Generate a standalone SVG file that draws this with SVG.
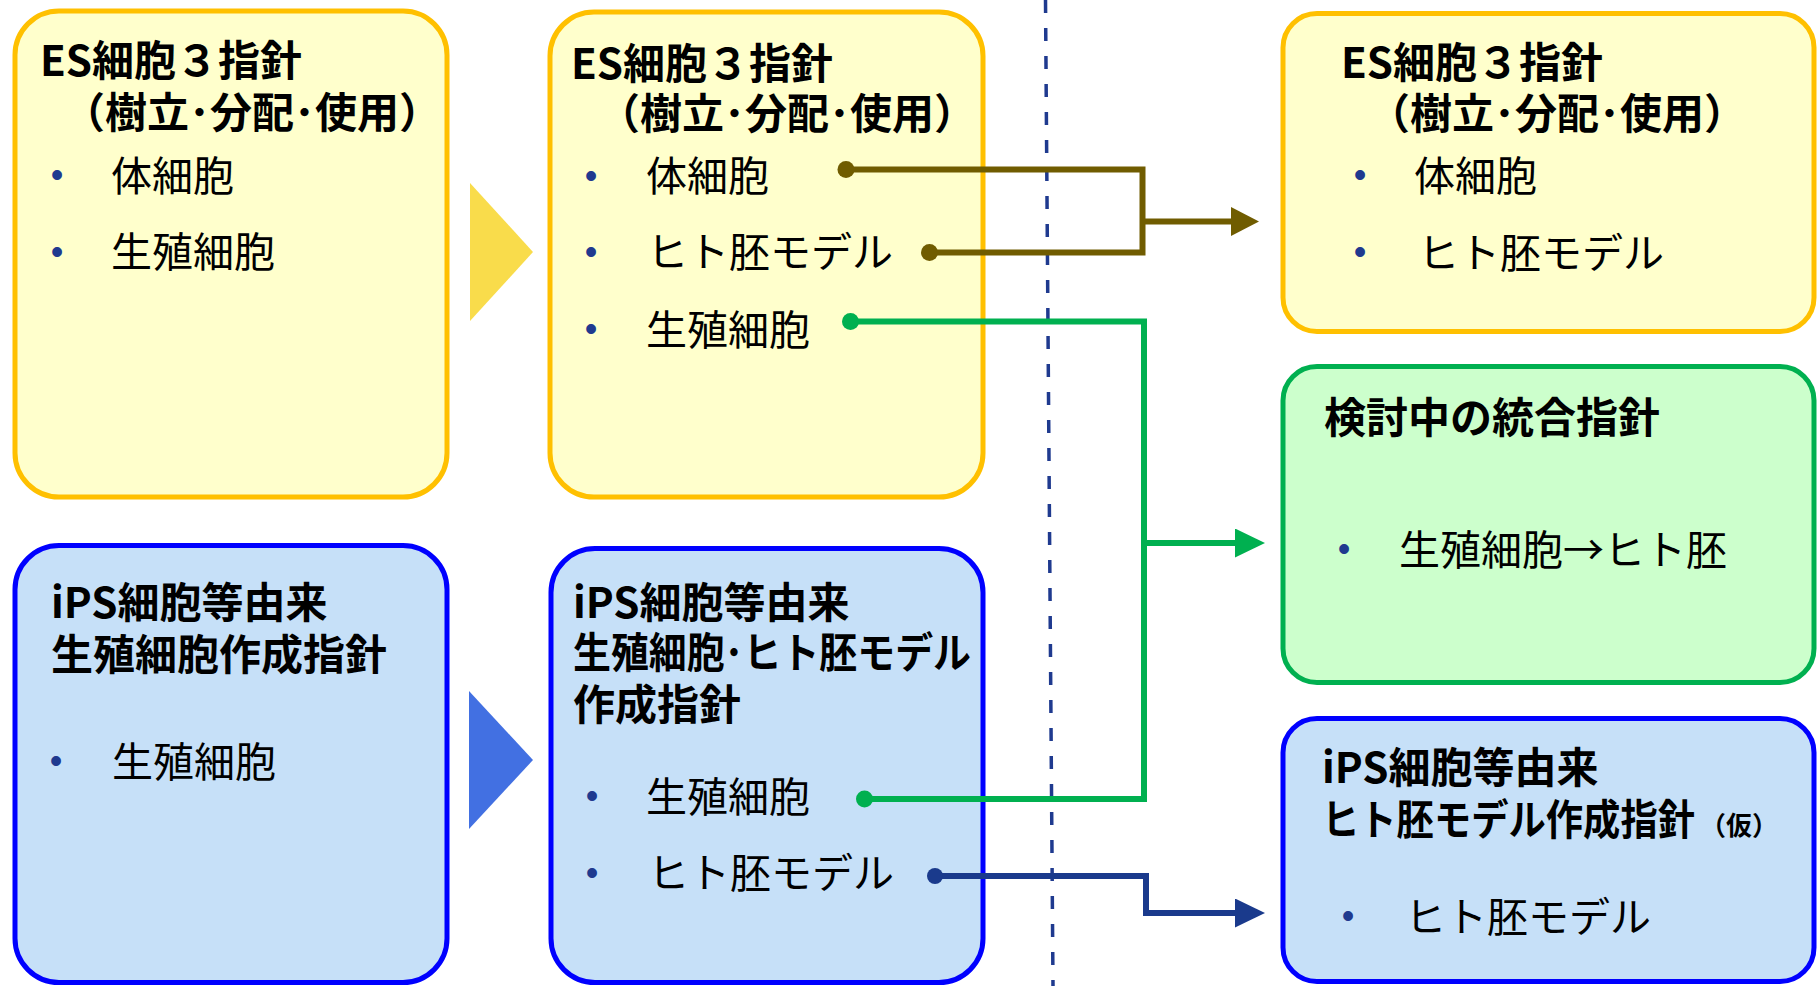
<svg xmlns="http://www.w3.org/2000/svg" width="1817" height="986" viewBox="0 0 1817 986">
<defs>
<style>
.yb{fill:#FFFFCC;stroke:#FFC000;stroke-width:5}
.bb{fill:#C6E0F8;stroke:#0000FF;stroke-width:5}
.gb{fill:#CCFFCC;stroke:#00B050;stroke-width:5}
.t{font-family:"Noto Sans CJK JP","Noto Sans",sans-serif;font-weight:700;font-size:42px;fill:#000}
.r{font-family:"Noto Sans CJK JP","Noto Sans",sans-serif;font-weight:400;font-size:41px;fill:#000}
.bul{font-family:"Liberation Sans",sans-serif;font-size:36px;fill:#1F3A8F;text-anchor:middle}
.c{fill:none;stroke-width:6}
</style>
<marker id="ab" markerUnits="userSpaceOnUse" markerWidth="30" markerHeight="30" refX="2" refY="14.5" orient="auto"><path d="M0,0 L28,14.5 L0,29 z" fill="#705C00"/></marker>
<marker id="ag" markerUnits="userSpaceOnUse" markerWidth="32" markerHeight="30" refX="2" refY="14.5" orient="auto"><path d="M0,0 L30,14.5 L0,29 z" fill="#00B050"/></marker>
<marker id="an" markerUnits="userSpaceOnUse" markerWidth="32" markerHeight="30" refX="2" refY="14.5" orient="auto"><path d="M0,0 L30,14.5 L0,29 z" fill="#1A3A8C"/></marker>
</defs>
<rect width="1817" height="986" fill="#FFFFFF"/>

<g id="es-current">
<rect class="yb" x="15" y="11" width="432" height="486" rx="44"/>
<text class="t" x="40" y="76">ES細胞３指針</text>
<text class="t" x="63" y="128">（樹立･分配･使用）</text>
<text class="bul" x="57" y="187">•</text>
<text class="r" x="111" y="191">体細胞</text>
<text class="bul" x="57" y="264">•</text>
<text class="r" x="111" y="267">生殖細胞</text>
</g>

<g id="arrow-yellow">
<polygon points="470,183 533,252 470,321" fill="#F9DC4B"/>
</g>

<g id="es-revised">
<rect class="yb" x="550" y="12" width="433" height="485" rx="44"/>
<text class="t" x="571" y="79">ES細胞３指針</text>
<text class="t" x="598" y="129">（樹立･分配･使用）</text>
<text class="bul" x="591" y="188">•</text>
<text class="r" x="646" y="191">体細胞</text>
<text class="bul" x="591" y="264">•</text>
<text class="r" x="647" y="267">ヒト胚モデル</text>
<text class="bul" x="591" y="341">•</text>
<text class="r" x="646" y="345">生殖細胞</text>
</g>

<g id="ips-current">
<rect class="bb" x="15" y="545.5" width="432" height="437" rx="44"/>
<text class="t" x="51" y="618">iPS細胞等由来</text>
<text class="t" x="51" y="670">生殖細胞作成指針</text>
<text class="bul" x="56" y="773">•</text>
<text class="r" x="112" y="777">生殖細胞</text>
</g>

<g id="arrow-blue">
<polygon points="469,691 533,760 469,829" fill="#4270E2"/>
</g>

<g id="ips-revised">
<rect class="bb" x="551" y="548.5" width="432" height="434" rx="44"/>
<text class="t" x="573" y="618">iPS細胞等由来</text>
<text class="t" x="573" y="668" textLength="398" lengthAdjust="spacingAndGlyphs">生殖細胞･ヒト胚モデル</text>
<text class="t" x="573" y="720">作成指針</text>
<text class="bul" x="592" y="808">•</text>
<text class="r" x="646" y="812">生殖細胞</text>
<text class="bul" x="592" y="885">•</text>
<text class="r" x="648" y="888">ヒト胚モデル</text>
</g>

<g id="es-future">
<rect class="yb" x="1283" y="13.5" width="531" height="318" rx="34"/>
<text class="t" x="1341" y="78">ES細胞３指針</text>
<text class="t" x="1368" y="129">（樹立･分配･使用）</text>
<text class="bul" x="1360" y="187">•</text>
<text class="r" x="1414" y="191">体細胞</text>
<text class="bul" x="1360" y="264">•</text>
<text class="r" x="1418" y="268">ヒト胚モデル</text>
</g>

<g id="integrated">
<rect class="gb" x="1283" y="366.5" width="531" height="316" rx="34"/>
<text class="t" x="1324" y="433">検討中の統合指針</text>
<text class="bul" x="1344" y="561">•</text>
<text class="r" x="1399" y="565">生殖細胞→ヒト胚</text>
</g>

<g id="ips-future">
<rect class="bb" x="1283" y="718.5" width="531" height="263" rx="34"/>
<text class="t" x="1322" y="783">iPS細胞等由来</text>
<text class="t" x="1322" y="835" textLength="373" lengthAdjust="spacingAndGlyphs">ヒト胚モデル作成指針</text>
<text class="t" x="1700" y="835" style="font-size:26px">（仮）</text>
<text class="bul" x="1348" y="928">•</text>
<text class="r" x="1405" y="932">ヒト胚モデル</text>
</g>

<g id="divider">
<line x1="1045.5" y1="0" x2="1053" y2="986" stroke="#1F3A8F" stroke-width="3.5" stroke-dasharray="13 15"/>
</g>

<g id="connectors">
<path class="c" stroke="#705C00" d="M846,169.5 H1142.5 V252.5 H929.5"/>
<path class="c" stroke="#705C00" d="M1142.5,221.5 H1233" marker-end="url(#ab)"/>
<circle cx="846" cy="169.5" r="8.5" fill="#705C00"/>
<circle cx="929.5" cy="252.5" r="8.5" fill="#705C00"/>
<path class="c" stroke="#00B050" d="M850.5,321.5 H1144 V799 H864.5"/>
<path class="c" stroke="#00B050" d="M1144,543 H1237" marker-end="url(#ag)"/>
<circle cx="850.5" cy="321.5" r="8.5" fill="#00B050"/>
<circle cx="864.5" cy="799" r="8.5" fill="#00B050"/>
<path class="c" stroke="#1A3A8C" d="M935,876 H1146 V913 H1237" marker-end="url(#an)"/>
<circle cx="935" cy="876" r="8" fill="#1A3A8C"/>
</g>
</svg>
